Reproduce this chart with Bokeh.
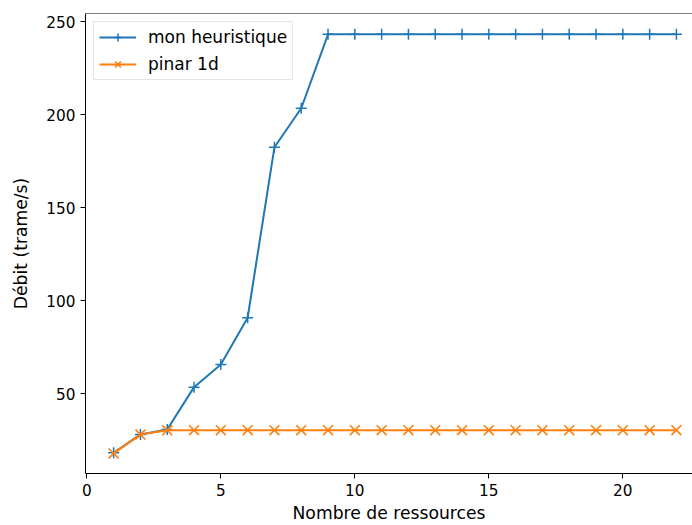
from bokeh.plotting import figure
from bokeh.models import FixedTicker, Range1d, Span
from bokeh.embed import file_html
from bokeh.resources import INLINE

nb_ressources = list(range(1, 23))
mon_heuristique = [18.3, 28.2, 30.8, 53.6, 65.8, 90.9, 182.5, 203.5, 243.2,
                   243.2, 243.2, 243.2, 243.2, 243.2, 243.2, 243.2, 243.2,
                   243.2, 243.2, 243.2, 243.2, 243.2]
pinar_1d = [18.0, 28.1, 30.4, 30.5, 30.5, 30.5, 30.5, 30.5, 30.5, 30.5, 30.5,
            30.5, 30.5, 30.5, 30.5, 30.5, 30.5, 30.5, 30.5, 30.5, 30.5, 30.5]
x_ticks = [0, 5, 10, 15, 20]
y_ticks = [50, 100, 150, 200, 250]

BLUE = "#1f77b4"
ORANGE = "#ff7f0e"
FONT = "DejaVu Sans"
FS = "15.3px"
FS_LABEL = "17.2px"
FS_LEGEND = "17px"

y_lo, y_hi = 7.2, 254.4

p = figure(width=692, height=525, output_backend="svg", toolbar_location=None,
           x_range=Range1d(-0.05, 22.6), y_range=Range1d(y_lo, y_hi),
           min_border_left=85, min_border_right=0, min_border_top=13,
           min_border_bottom=52)

p.line(nb_ressources, mon_heuristique, line_color=BLUE, line_width=2,
       legend_label="mon heuristique")
p.scatter(nb_ressources, mon_heuristique, marker="cross", size=11,
          line_color=BLUE, line_width=1.5, legend_label="mon heuristique")
p.line(nb_ressources, pinar_1d, line_color=ORANGE, line_width=2,
       legend_label="pinar 1d")
p.scatter(nb_ressources, pinar_1d, marker="x", size=14,
          line_color=ORANGE, line_width=1.6, legend_label="pinar 1d")

p.outline_line_color = None
p.add_layout(Span(location=y_hi, dimension="width", line_color="black",
                  line_width=1))
p.grid.visible = False

for ax in (p.xaxis[0], p.yaxis[0]):
    ax.axis_line_color = "black"
    ax.axis_line_width = 1
    ax.major_tick_in = 0
    ax.major_tick_out = 5
    ax.major_tick_line_color = "black"
    ax.minor_tick_line_color = None
    ax.major_label_text_font = FONT
    ax.major_label_text_font_size = FS
    ax.major_label_text_color = "black"
    ax.axis_label_text_font = FONT
    ax.axis_label_text_font_size = FS_LABEL
    ax.axis_label_text_font_style = "normal"
    ax.axis_label_text_color = "black"
    ax.major_label_standoff = 5

p.xaxis.ticker = FixedTicker(ticks=x_ticks)
p.yaxis.ticker = FixedTicker(ticks=y_ticks)
p.xaxis.axis_label = "Nombre de ressources"
p.yaxis.axis_label = "Débit (trame/s)"
p.xaxis.axis_label_standoff = 4
p.yaxis.axis_label_standoff = 12

lg = p.legend[0]
lg.location = "top_left"
lg.margin = 8
lg.padding = 5
lg.spacing = 7
lg.glyph_width = 37
lg.glyph_height = 20
lg.label_standoff = 12
lg.label_text_font = FONT
lg.label_text_font_size = FS_LEGEND
lg.label_text_color = "black"
lg.border_line_color = "#cccccc"
lg.background_fill_alpha = 0.8

open("out.html", "w").write(file_html(p, INLINE))
